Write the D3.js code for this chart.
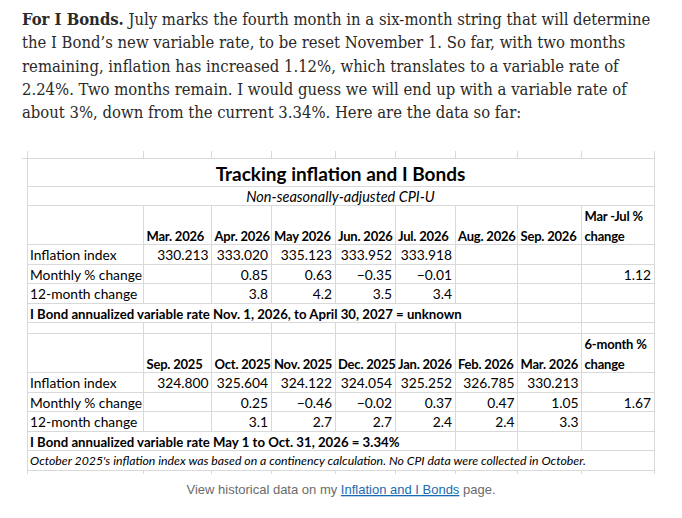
<!DOCTYPE html>
<html>
<head>
<meta charset="utf-8">
<script src="https://cdn.jsdelivr.net/npm/d3@7"></script>
<style>
  html, body { margin: 0; padding: 0; background: #fff; }
  #page { width: 682px; height: 518px; }
  .para { font-family: "DejaVu Serif Condensed", "DejaVu Serif", serif; font-stretch: condensed; font-size: 16.5px; fill: #2a2a2a; }
  .cell { font-family: Lato, "Open Sans", sans-serif; font-size: 13.8px; fill: #000; }
  .bold { font-weight: 700; }
  .hd { font-size: 13px; letter-spacing: -0.2px; }
  .rate { font-size: 13.2px; }
  .title { font-family: Lato, sans-serif; font-size: 19px; font-weight: 700; fill: #000; }
  .sub { font-family: Lato, sans-serif; font-size: 14.5px; font-style: italic; fill: #000; }
  .note { font-family: Lato, sans-serif; font-size: 12.3px; font-style: italic; fill: #000; }
  .grid { stroke: #d9d9d9; stroke-width: 1; shape-rendering: crispEdges; }
  .cap { font-family: "Liberation Sans", Arial, sans-serif; font-size: 13px; fill: #6b6b6b; }
  .link { fill: #1a6ab0; text-decoration: underline; }
</style>
</head>
<body>
<div id="page"></div>
<script>
// ---- data ----
const paraLines = [
  "July marks the fourth month in a six-month string that will determine",
  "the I Bond’s new variable rate, to be reset November 1. So far, with two months",
  "remaining, inflation has increased 1.12%, which translates to a variable rate of",
  "2.24%. Two months remain. I would guess we will end up with a variable rate of",
  "about 3%, down from the current 3.34%. Here are the data so far:"
];
const rowLabels = ["Inflation index", "Monthly % change", "12-month change"];

const months1 = ["Mar. 2026", "Apr. 2026", "May 2026", "Jun. 2026", "Jul. 2026", "Aug. 2026", "Sep. 2026"];
const index1 = [330.213, 333.020, 335.123, 333.952, 333.918, null, null];
const monthly1 = [null, 0.85, 0.63, -0.35, -0.01, null, null];
const yoy1 = [null, 3.8, 4.2, 3.5, 3.4, null, null];
const change1 = 1.12;
const changeHead1 = ["Mar -Jul %", "change"];
const rate1 = "I Bond annualized variable rate Nov. 1, 2026, to April 30, 2027 = unknown";

const months2 = ["Sep. 2025", "Oct. 2025", "Nov. 2025", "Dec. 2025", "Jan. 2026", "Feb. 2026", "Mar. 2026"];
const index2 = [324.800, 325.604, 324.122, 324.054, 325.252, 326.785, 330.213];
const monthly2 = [null, 0.25, -0.46, -0.02, 0.37, 0.47, 1.05];
const yoy2 = [null, 3.1, 2.7, 2.7, 2.4, 2.4, 3.3];
const change2 = 1.67;
const changeHead2 = ["6-month %", "change"];
const rate2 = "I Bond annualized variable rate May 1 to Oct. 31, 2026 = 3.34%";
const note2 = "October 2025's inflation index was based on a continency calculation. No CPI data were collected in October.";

// ---- layout ----
const W = 682, H = 518;
const svg = d3.select("#page").append("svg").attr("width", W).attr("height", H);

// paragraph
const para = svg.append("g");
paraLines.forEach((ln, i) => {
  const t = para.append("text").attr("class", "para").attr("x", 22).attr("y", 25 + i * 23.3);
  if (i === 0) { t.append("tspan").attr("class", "bold").text("For I Bonds."); t.append("tspan").text(" " + ln) }
  else t.text(ln);
});

// table column edges (label col + 7 months + change col)
const colKeys = ["label", 0, 1, 2, 3, 4, 5, 6, "chg"];
const colEdges = [27, 143.5, 211.5, 271, 335, 395, 455, 517.5, 581.5, 654];
const xL = d3.scaleOrdinal().domain(colKeys).range(colEdges.slice(0, -1));
const xR = d3.scaleOrdinal().domain(colKeys).range(colEdges.slice(1));
const L = colEdges[0], R = colEdges[colEdges.length - 1];

const fmt = [d3.format(".3f"), d3.format(".2f"), d3.format(".1f")];
const tg = svg.append("g");
const gridG = tg.append("g"), textG = tg.append("g");

function hline(y, x0 = L) { gridG.append("line").attr("class", "grid").attr("x1", x0).attr("x2", R).attr("y1", y).attr("y2", y) }
function vlines(y0, y1, keys) {
  gridG.selectAll(null).data(keys).enter().append("line").attr("class", "grid")
    .attr("x1", d => xL(d)).attr("x2", d => xL(d)).attr("y1", y0).attr("y2", y1);
}
const allInner = colKeys.slice(1);

function block(y0, months, series, change, changeHead, rate, note) {
  const headH = 39.5, rowH = 19.5;
  // header
  vlines(y0, y0 + headH, allInner);
  textG.selectAll(null).data(months).enter().append("text").attr("class", "cell bold hd")
    .attr("x", (d, i) => xL(i) + 3).attr("y", y0 + headH - 4).text(d => d);
  changeHead.forEach((s, k) => textG.append("text").attr("class", "cell bold hd")
    .attr("x", xL("chg") + 3).attr("y", y0 + headH - 4 - (1 - k) * 19.5).text(s));
  hline(y0 + headH);
  let y = y0 + headH;
  series.forEach((vals, r) => {
    vlines(y, y + rowH, allInner);
    textG.append("text").attr("class", "cell").attr("x", L + 3).attr("y", y + rowH - 4).text(rowLabels[r]);
    const cells = vals.map((v, i) => ({ v, i })).filter(d => d.v != null);
    textG.selectAll(null).data(cells).enter().append("text").attr("class", "cell")
      .attr("text-anchor", "end").attr("x", d => xR(d.i) - 3).attr("y", y + rowH - 4).text(d => fmt[r](d.v));
    if (r === 1) textG.append("text").attr("class", "cell").attr("text-anchor", "end")
      .attr("x", xR("chg") - 3).attr("y", y + rowH - 4).text(d3.format(".2f")(change));
    y += rowH; hline(y);
  });
  // rate row: text overflows into neighbouring cells, hiding their borders
  const rt = textG.append("text").attr("class", "cell bold rate").attr("x", L + 3).attr("y", y + rowH - 4).text(rate);
  const rEnd = L + 3 + rt.node().getComputedTextLength();
  vlines(y, y + rowH, allInner.filter(k => xL(k) > rEnd));
  y += rowH; hline(y);
  if (note) {
    const nt = textG.append("text").attr("class", "note").attr("x", L + 3).attr("y", y + rowH - 5).text(note);
    const nEnd = L + 3 + nt.node().getComputedTextLength();
    vlines(y, y + rowH, allInner.filter(k => xL(k) > nEnd));
    y += rowH; hline(y);
  }
  return y;
}

// top part: title + subtitle
const tableTop = 158.5;
vlines(151, tableTop, allInner);
hline(tableTop, 22);
textG.append("text").attr("class", "title").attr("text-anchor", "middle").attr("x", (L + R) / 2).attr("y", tableTop + 22.5).text("Tracking inflation and I Bonds");
hline(186);
textG.append("text").attr("class", "sub").attr("text-anchor", "middle").attr("x", (L + R) / 2).attr("y", 201.5).text("Non-seasonally-adjusted CPI-U");
hline(205);
let yEnd = block(205, months1, [index1, monthly1, yoy1], change1, changeHead1, rate1);
// small spacer row
vlines(yEnd, 333, allInner); hline(333);
yEnd = block(333, months2, [index2, monthly2, yoy2], change2, changeHead2, rate2, note2);
vlines(yEnd, yEnd + 4, allInner);
// outer verticals
gridG.append("line").attr("class", "grid").attr("x1", L).attr("x2", L).attr("y1", 151).attr("y2", yEnd + 4);
gridG.append("line").attr("class", "grid").attr("x1", R).attr("x2", R).attr("y1", 151).attr("y2", yEnd + 4);

// caption
const cap = svg.append("text").attr("class", "cap").attr("text-anchor", "middle").attr("x", 341).attr("y", 494);
cap.append("tspan").text("View historical data on my ");
cap.append("tspan").attr("class", "link").text("Inflation and I Bonds");
cap.append("tspan").text(" page.");
</script>
</body>
</html>
